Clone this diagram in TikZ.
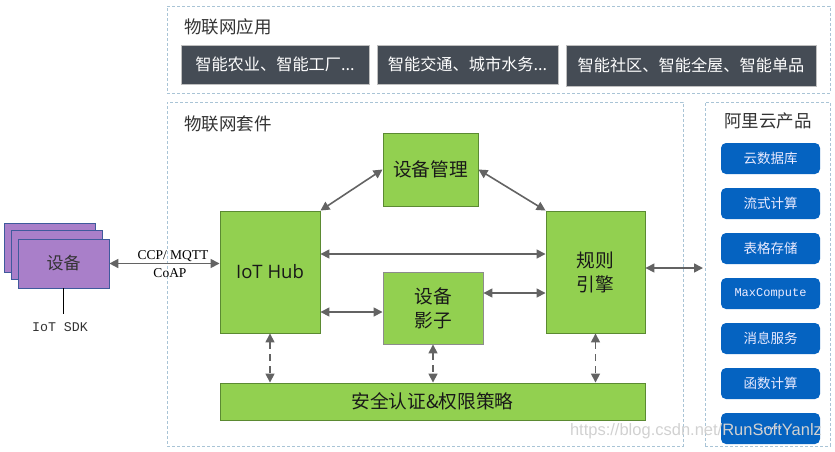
\documentclass[tikz,border=0pt]{standalone}
\usepackage{fontspec}
\setmainfont{Noto Sans CJK SC}
\newfontfamily\serifen{Liberation Serif}
\newfontfamily\monoen{Liberation Mono}
\newfontfamily\sansen{Open Sans}
\usetikzlibrary{arrows.meta}
\definecolor{panelline}{HTML}{A9C4D6}
\definecolor{greenfill}{HTML}{92D050}
\definecolor{greenline}{HTML}{5B8A32}
\definecolor{purplefill}{HTML}{A97FC9}
\definecolor{purpleline}{HTML}{3F5A9C}
\definecolor{bluefill}{HTML}{0563C1}
\definecolor{darkfill}{HTML}{454C55}
\definecolor{arrowgray}{HTML}{636363}
\definecolor{inktext}{HTML}{333333}

\begin{document}
\begin{tikzpicture}[x=1pt, y=-1pt, node distance={45pt},
    panel/.style = {draw=panelline, densely dashed, line width=0.8pt, inner sep=0pt},
    title/.style = {text=inktext, font=\fontsize{17.5}{19}\selectfont, inner sep=0pt},
    app/.style = {draw=black!25, fill=darkfill, text=white, inner sep=0pt, font=\fontsize{16.2}{18}\selectfont},
    suite/.style = {draw=greenline, fill=greenfill, line width=0.9pt, inner sep=0pt, align=center, text=black!90, font=\fontsize{18.7}{24}\selectfont},
    device/.style = {draw=purpleline, fill=purplefill, line width=0.7pt, minimum width=91pt, minimum height=49pt, inner sep=0pt},
    product/.style = {draw=none, fill=bluefill, rounded corners=5pt, minimum width=99pt, minimum height=31pt, inner sep=0pt, text=white!92!blue, font=\fontsize{13.5}{15}\selectfont},
    link/.style = {draw=arrowgray, line width=1.6pt, {Triangle[length=9pt,width=9pt]}-{Triangle[length=9pt,width=9pt]}},
    authlink/.style = {link, dash pattern=on 7pt off 5pt}]
    \useasboundingbox (0,0) rectangle (835,451);

    % panels
    \node[panel, minimum width=663pt, minimum height=87pt] (apps) at (498.5,49.5) {};
    \node[panel, minimum width=516pt, minimum height=344pt] (kit) at (425,274) {};
    \node[panel, minimum width=125pt, minimum height=344pt] (cloud) at (767.5,274) {};
    \node[title, anchor=west] (appstitle) at (184,27) {物联网应用};
    \node[title, anchor=west] (kittitle) at (184,124) {物联网套件};
    \node[title] (cloudtitle) at (768,121) {阿里云产品};

    % applications
    \node[app, minimum width=188pt, minimum height=39pt] (app1) at (275,64.5) {智能农业、智能工厂...};
    \node[app, minimum width=181pt, minimum height=39pt] (app2) at (467.5,64.5) {智能交通、城市水务...};
    \node[app, minimum width=250pt, minimum height=41pt] (app3) at (691,65.5) {智能社区、智能全屋、智能单品};

    % devices
    \node[device] (dev3) at (49.5,247.5) {};
    \node[device] (dev2) at (56.5,254.5) {};
    \node[device, text=inktext, font=\fontsize{17}{20}\selectfont] (dev1) at (63.5,263.5) {设备};
    \node[inner sep=0pt, text=inktext, font=\monoen\fontsize{13.3}{15}\selectfont] (sdk) at (60,327) {IoT SDK};
    \coordinate (sdktop) at (63.5,314);
    \draw[line width=0.9pt] (dev1.south) -- (sdktop);

    % suite
    \node[suite, minimum width=100pt, minimum height=122pt, font=\sansen\fontsize{18.5}{22}\selectfont] (hub) at (270,272) {IoT Hub};
    \node[suite, minimum width=95pt, minimum height=73pt] (mgmt) at (430.5,169.5) {设备管理};
    \node[suite, minimum width=100pt, minimum height=72pt, draw=black!45] (shadow) at (433,308) {设备\\影子};
    \node[suite, minimum width=99pt, minimum height=122pt] (rules) at (595.5,272) {规则\\引擎};
    \node[suite, minimum width=425pt, minimum height=37pt] (auth) at (432.5,401.5) {安全认证\&权限策略};

    % products
    \node[product] (p1) at (770.5,158.5) {云数据库};
    \node[product] (p2) [below of=p1] {流式计算};
    \node[product] (p3) [below of=p2] {表格存储};
    \node[product, font=\monoen\fontsize{12}{14}\selectfont] (p4) [below of=p3] {MaxCompute};
    \node[product] (p5) [below of=p4] {消息服务};
    \node[product] (p6) [below of=p5] {函数计算};
    \node[product] (p7) [below of=p6] {......};

    % links
    \draw[link] (dev1.east) -- (dev1.east -| hub.west);
    \node[inner sep=0pt, font=\serifen\fontsize{13.5}{15}\selectfont] (proto1) at (173,256) {CCP/ MQTT};
    \node[inner sep=0pt, font=\serifen\fontsize{13.5}{15}\selectfont] (proto2) at (170,273) {CoAP};
    \draw[link] (hub.north east) -- (mgmt.west);
    \draw[link] (mgmt.east) -- (rules.north west);
    \draw[link] ([yshift=18pt]hub.east) -- ([yshift=18pt]rules.west);
    \draw[link] ([yshift=-40pt]hub.east) -- ([yshift=-4pt]shadow.west);
    \draw[link] ([yshift=15pt]shadow.east) -- ([yshift=15pt]shadow.east -| rules.west);
    \coordinate (cloudport) at (703,268);
    \draw[link] (rules.east |- cloudport) -- (cloudport);
    \draw[authlink] (hub.south) -- (hub.south |- auth.north);
    \draw[authlink] (shadow.south) -- (shadow.south |- auth.north);
    \draw[authlink] (rules.south) -- (rules.south |- auth.north);

    % watermark
    \node[inner sep=0pt, text=black!18, font=\fontspec{Liberation Sans}\fontsize{16.5}{18}\selectfont] (mark) at (696,431) {https://blog.csdn.net/RunSoftYanlz};
\end{tikzpicture}
\end{document}
